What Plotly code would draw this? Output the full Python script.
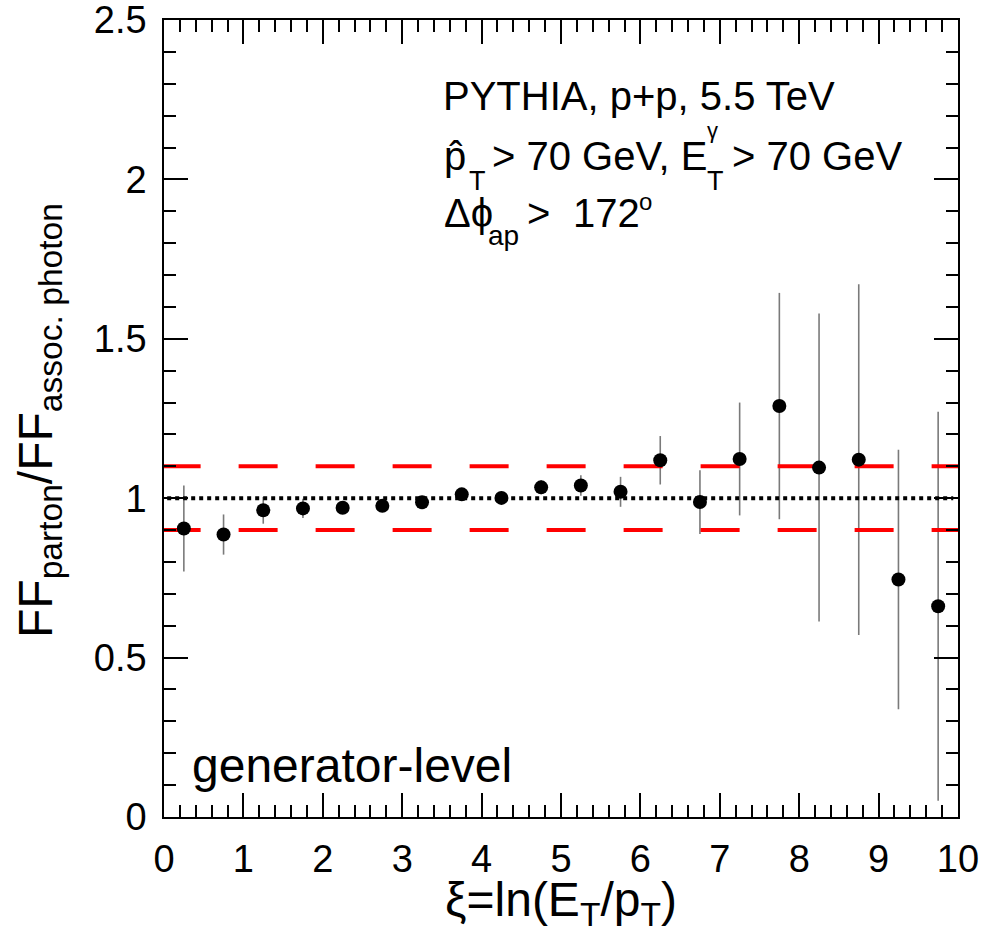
import plotly.graph_objects as go

# xi bin centres, ratio values and their statistical errors
xi_bins = [0.25, 0.75, 1.25, 1.75, 2.25, 2.75, 3.25, 3.75, 4.25, 4.75,
           5.25, 5.75, 6.25, 6.75, 7.25, 7.75, 8.25, 8.75, 9.25, 9.75]
ff_ratio = [0.905, 0.886, 0.962, 0.968, 0.970, 0.976, 0.987, 1.012, 1.001, 1.034,
            1.040, 1.020, 1.119, 0.988, 1.123, 1.289, 1.096, 1.121, 0.745, 0.661]
ff_ratio_err = [0.135, 0.063, 0.042, 0.030, 0.018, 0.018, 0.020, 0.020, 0.020, 0.022,
                0.032, 0.047, 0.076, 0.100, 0.177, 0.355, 0.483, 0.550, 0.407, 0.610]

# axis tick values
x_ticks = [0, 1, 2, 3, 4, 5, 6, 7, 8, 9, 10]
y_ticks = [0, 0.5, 1, 1.5, 2, 2.5]
y_tick_text = ["0", "0.5", "1", "1.5", "2", "2.5"]

# +-10% band and unity reference
band_levels = [0.9, 1.1]
unity_level = 1.0

FONT = "Liberation Sans, Arial, Helvetica, sans-serif"

# plot frame in pixels (figure is 996 x 940)
L, R, T, B = 164, 958, 20, 817
W, H = R - L, B - T


def px(x):
    return (x - L) / W


def py(y):
    return (B - y) / H


def label(text, x, baseline, size, anchor="left"):
    return dict(text=text, xref="paper", yref="paper",
                x=px(x), y=py(baseline - 0.3465 * size),
                xanchor=anchor, yanchor="middle", showarrow=False,
                borderpad=0, borderwidth=0,
                font=dict(family=FONT, size=size, color="black"))


fig = go.Figure()

# error bars only (drawn first so the band lines sit above them)
fig.add_trace(go.Scatter(
    x=xi_bins, y=ff_ratio, mode="markers",
    marker=dict(size=1, color="rgba(0,0,0,0)"),
    error_y=dict(type="data", array=ff_ratio_err, visible=True,
                 color="#7a7a7a", thickness=1.6, width=0),
    hoverinfo="skip", showlegend=False))

# red dashed band lines
for lvl in band_levels:
    fig.add_trace(go.Scatter(
        x=[-0.03, 10.2], y=[lvl, lvl], mode="lines",
        line=dict(color="#ff0000", width=4, dash="39px,38px"),
        hoverinfo="skip", showlegend=False))

# dotted unity line
fig.add_trace(go.Scatter(
    x=[0.04, 9.94], y=[unity_level, unity_level], mode="lines",
    line=dict(color="black", width=4, dash="4px,4px"),
    hoverinfo="skip", showlegend=False))

# data points
fig.add_trace(go.Scatter(
    x=xi_bins, y=ff_ratio, mode="markers",
    marker=dict(size=14, color="black"),
    showlegend=False))

axis_common = dict(
    showline=True, linecolor="black", linewidth=1.5, mirror="allticks",
    ticks="inside", tickcolor="black", tickwidth=1.5, ticklen=24,
    showgrid=False, zeroline=False, ticklabeloverflow="allow",
    automargin=False,
    tickfont=dict(family=FONT, size=38, color="black"),
)

fig.update_xaxes(range=[0, 10], tickmode="array", tickvals=x_ticks,
                 minor=dict(dtick=0.2, tick0=0, ticks="inside", ticklen=12,
                            tickwidth=1.5, tickcolor="black", showgrid=False),
                 ticklabelstandoff=8, **axis_common)
fig.update_yaxes(range=[0, 2.5], tickmode="array", tickvals=y_ticks,
                 ticktext=y_tick_text,
                 minor=dict(dtick=0.1, tick0=0, ticks="inside", ticklen=12,
                            tickwidth=1.5, tickcolor="black", showgrid=False),
                 ticklabelstandoff=8, **axis_common)

annotations = [
    label("PYTHIA, p+p, 5.5 TeV", 443, 110, 40),
    label("p\u0302", 444, 170, 40),
    label("T", 469, 190, 27),
    label("> 70 GeV, E", 492, 170, 40),
    label("\u03b3", 707, 138, 22),
    label("T", 707, 190, 27),
    label("> 70 GeV", 732, 170, 40),
    label("\u0394\u03d5", 444, 227, 40),
    label("ap", 488, 245, 28),
    label(">", 527, 227, 40),
    label("172", 573, 227, 40),
    label("o", 639, 210, 24),
    label("generator-level", 192, 782, 48),
]

# axis titles
annotations.append(dict(
    text="\u03be=ln(E<sub>T</sub>/p<sub>T</sub>)",
    xref="paper", yref="paper", x=px(561), y=py(873),
    xanchor="center", yanchor="top", showarrow=False,
    borderpad=0, borderwidth=0,
    font=dict(family=FONT, size=48, color="black")))
annotations.append(dict(
    text="FF<sub>parton</sub>/FF<sub>assoc. photon</sub>",
    xref="paper", yref="paper", x=px(9), y=py(421),
    xanchor="left", yanchor="middle", textangle=-90, showarrow=False,
    borderpad=0, borderwidth=0,
    font=dict(family=FONT, size=48, color="black")))

fig.update_layout(
    width=996, height=940,
    margin=dict(l=L, r=996 - R, t=T, b=940 - B),
    plot_bgcolor="white", paper_bgcolor="white",
    font=dict(family=FONT, color="black"),
    showlegend=False,
    annotations=annotations,
)

fig.write_html("out.html")
